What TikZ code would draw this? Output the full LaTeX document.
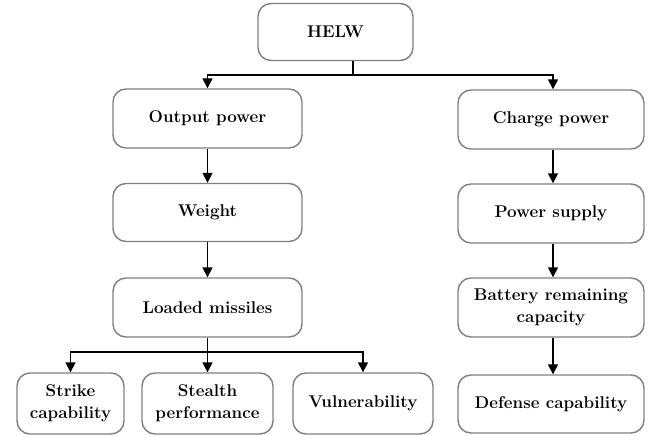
\documentclass[tikz,border=0pt]{standalone}
\usetikzlibrary{arrows.meta}
\begin{document}
\begin{tikzpicture}[x=1pt,y=-1pt,
  box/.style={draw=black!50, line width=1.4pt, rounded corners=13pt, fill=white,
    align=center, font=\fontsize{17}{22}\selectfont\bfseries, inner sep=0pt},
  link/.style={line width=1.6pt, -{Triangle[length=10pt,width=10pt]}},
  bar/.style={line width=1.6pt}]
\useasboundingbox (0,0) rectangle (656,436);

% tree of nodes
\node[box, minimum width=155pt, minimum height=57pt] (helw) at (335.5,32) {HELW};
\node[box, minimum width=189pt, minimum height=59pt] (out) at (207.5,118.5) {Output power};
\node[box, minimum width=189pt, minimum height=58pt] (wt) at (207.5,212.5) {Weight};
\node[box, minimum width=189pt, minimum height=59pt] (lm) at (207.5,307.5) {Loaded missiles};
\node[box, minimum width=186pt, minimum height=59pt] (cp) at (551,119.5) {Charge power};
\node[box, minimum width=186pt, minimum height=59pt] (ps) at (551,213.5) {Power supply};
\node[box, minimum width=186pt, minimum height=59pt] (br) at (551,307.5) {Battery remaining\\capacity};
\node[box, minimum width=186pt, minimum height=58pt] (dc) at (551,404) {Defense capability};
\node[box, minimum width=107pt, minimum height=61pt] (sc) at (70.5,403.5) {Strike\\capability};
\node[box, minimum width=131pt, minimum height=61pt] (sp) at (207.5,403.5) {Stealth\\performance};
\node[box, minimum width=140pt, minimum height=61pt] (vu) at (363,403.5) {Vulnerability};

% branch from the root
\coordinate (stem) at ([xshift=17.5pt]helw.south);
\coordinate (split) at ([yshift=-14pt]stem);
\draw[bar] (stem) -- (split);
\draw[link] (split) -| ([xshift=2pt]cp.north);
\draw[link] (split) -| (out.north);

% left chain
\draw[link] (out) -- (wt);
\draw[link] (wt) -- (lm);

% right chain
\draw[link] ([xshift=2pt]cp.south) -- ([xshift=2pt]ps.north);
\draw[link] ([xshift=2pt]ps.south) -- ([xshift=2pt]br.north);
\draw[link] ([xshift=2pt]br.south) -- ([xshift=2pt]dc.north);

% branch from loaded missiles
\coordinate (fork) at ([yshift=-14.5pt]lm.south);
\draw[bar] (lm.south) -- (fork);
\draw[link] (fork) -| (sc.north);
\draw[link] (fork) -- (sp.north);
\draw[link] (fork) -| (vu.north);
\end{tikzpicture}
\end{document}
